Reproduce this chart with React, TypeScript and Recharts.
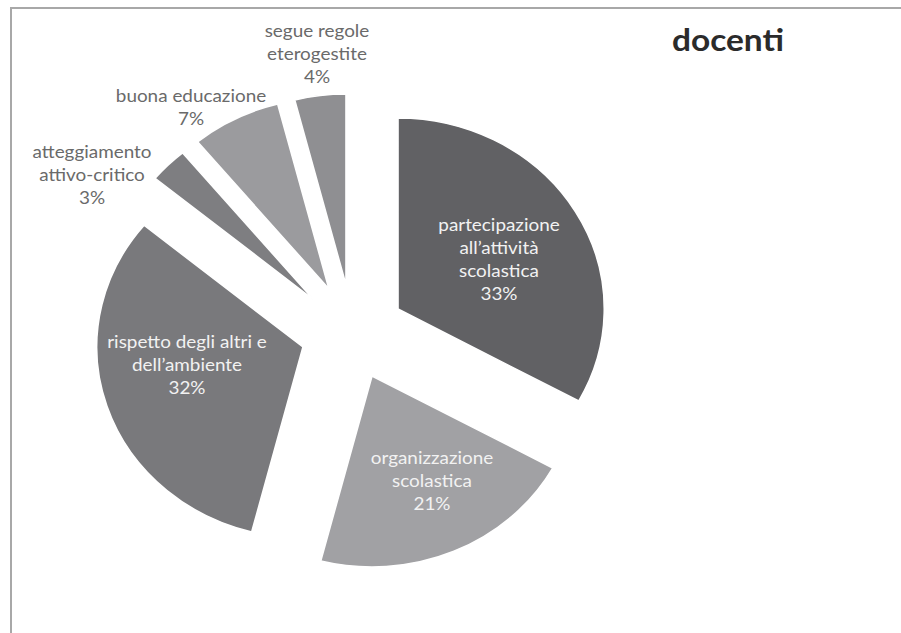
import React from 'react';
import { PieChart, Pie, Cell } from 'recharts';

// slice order = clockwise from 12 o'clock
const SLICE_NAMES = [
  'partecipazione all’attività scolastica',
  'organizzazione scolastica',
  'rispetto degli altri e dell’ambiente',
  'atteggiamento attivo-critico',
  'buona educazione',
  'segue regole eterogestite',
];
const SLICE_LINES = [
  ['partecipazione', 'all’attività', 'scolastica'],
  ['organizzazione', 'scolastica'],
  ['rispetto degli altri e', 'dell’ambiente'],
  ['atteggiamento', 'attivo-critico'],
  ['buona educazione'],
  ['segue regole', 'eterogestite'],
];
const SLICE_VALUES = [33, 21, 32, 3, 7, 4];

const COLORS = ['#616164', '#a1a1a4', '#79797c', '#7e7e81', '#9b9b9e', '#8f8f92'];

// the original picture is slightly stretched sideways
const STRETCH = 1.08;
const W = 901;
const H = 633;

// page position of each exploded slice's tip
const SLICE_TIPS = [
  { x: 398, y: 309 },
  { x: 372, y: 376 },
  { x: 303, y: 347 },
  { x: 314, y: 300 },
  { x: 329, y: 289 },
  { x: 346, y: 285 },
];
// label centre relative to the slice tip (page px)
const LABEL_OFFSETS = [
  { dx: 101, dy: -50, inside: true },
  { dx: 60, dy: 104, inside: true },
  { dx: -116, dy: 17, inside: true },
  { dx: -222, dy: -126, inside: false },
  { dx: -138, dy: -182, inside: false },
  { dx: -29, dy: -232, inside: false },
];

const data = SLICE_NAMES.map((name, i) => ({ name, value: SLICE_VALUES[i] }));

const RADIUS = 191;
const LINE_H = 23;
const FONT = "Lato, 'Open Sans', sans-serif";

const renderLabel = (props: any, k: number) => {
  if (props.index !== k) return <g />;
  const { dx, dy, inside } = LABEL_OFFSETS[k];
  const lines = [...SLICE_LINES[k], `${SLICE_VALUES[k]}%`];
  const x = props.cx + dx / STRETCH;
  const y0 = props.cy + dy - ((lines.length - 1) * LINE_H) / 2;
  return (
    <text
      x={x}
      y={y0}
      textAnchor="middle"
      fill={inside ? '#f2f2f2' : '#6a6a6a'}
      fontFamily={FONT}
      fontSize={17.5}
    >
      {lines.map((l, i) => (
        <tspan key={i} x={x} y={y0 + i * LINE_H} dominantBaseline="central">
          {l}
        </tspan>
      ))}
    </text>
  );
};

export default function App() {
  return (
    <div style={{ position: 'absolute', left: 0, top: 0, width: W, height: H, background: '#fff', overflow: 'hidden' }}>
      <div
        style={{
          position: 'absolute',
          left: 10,
          top: 7,
          right: 0,
          bottom: 0,
          borderTop: '2px solid #a8a8a8',
          borderLeft: '2px solid #a8a8a8',
        }}
      />
      <div
        style={{
          position: 'absolute',
          left: 0,
          top: 0,
          transform: `scaleX(${STRETCH})`,
          transformOrigin: '0 0',
        }}
      >
        <PieChart width={Math.round(W / STRETCH)} height={H} margin={{ top: 0, right: 0, bottom: 0, left: 0 }}>
          {SLICE_TIPS.map((tip, k) => (
            <Pie
              key={k}
              data={data}
              dataKey="value"
              nameKey="name"
              cx={tip.x / STRETCH}
              cy={tip.y}
              outerRadius={RADIUS}
              startAngle={90}
              endAngle={-270}
              isAnimationActive={false}
              labelLine={false}
              label={(p: any) => renderLabel(p, k)}
            >
              {data.map((_, i) => (
                <Cell
                  key={i}
                  fill={i === k ? COLORS[i] : 'transparent'}
                  stroke={i === k ? '#ffffff' : 'none'}
                  strokeWidth={1.5}
                />
              ))}
            </Pie>
          ))}
          <text
            x={728 / STRETCH}
            y={51}
            textAnchor="middle"
            fontFamily={FONT}
            fontWeight="bold"
            fontSize={31}
            fill="#2b2b2b"
          >
            docenti
          </text>
        </PieChart>
      </div>
    </div>
  );
}
